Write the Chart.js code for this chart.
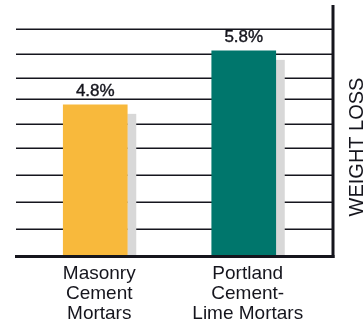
<!DOCTYPE html>
<html>
<head>
<meta charset="utf-8">
<script src="https://cdn.jsdelivr.net/npm/chart.js@4.4.1/dist/chart.umd.min.js"></script>
<style>
  body { margin: 0; background: #fff; }
  #lossChart { display: block; }
</style>
</head>
<body>
<canvas id="lossChart" width="364" height="320"></canvas>
<script>
const mortarTypes = [['Masonry', 'Cement', 'Mortars'], ['Portland', 'Cement-', 'Lime Mortars']];
const weightLoss = [4.8, 5.8];
const barColors = ['#f8b93c', '#00766c'];
const gridValues = [2.5, 3.0, 3.5, 4.0, 4.45, 4.9, 5.3, 5.75, 6.2];
const axisTitle = 'WEIGHT LOSS';

const ctx = document.getElementById('lossChart');
const ink = '#15151d';
const font = '"Liberation Sans", Arial, sans-serif';

// grid lines and bar shadows go under the bars, frame + labels on top
const framePlugin = {
    id: 'frame',
    beforeDatasetsDraw(chart) {
        const c = chart.ctx;
        const area = chart.chartArea;
        const y = chart.scales.y;
        c.save();
        c.strokeStyle = ink;
        c.lineWidth = 1.5;
        for (const v of gridValues) {
            const py = Math.round(y.getPixelForValue(v)) + 0.25;
            c.beginPath();
            c.moveTo(area.left - 5, py);
            c.lineTo(area.right + 15, py);
            c.stroke();
        }
        // light shadow strip right of each bar, stopping at the base line
        c.fillStyle = '#d8d8d8';
        chart.getDatasetMeta(0).data.forEach(bar => {
            const p = bar.getProps(['x', 'y', 'width'], true);
            c.fillRect(p.x + p.width / 2, p.y + 9, 9, area.bottom - p.y - 9);
        });
        c.restore();
    },
    afterDatasetsDraw(chart) {
        const c = chart.ctx;
        const area = chart.chartArea;
        const right = area.right + 15;
        c.save();
        c.strokeStyle = ink;
        c.lineWidth = 3;
        c.beginPath();
        c.moveTo(area.left - 6, area.bottom + 0.5);
        c.lineTo(right + 1.5, area.bottom + 0.5);
        c.stroke();
        c.beginPath();
        c.moveTo(right, area.top);
        c.lineTo(right, area.bottom + 2);
        c.stroke();

        // value on top of each bar
        c.fillStyle = ink;
        c.strokeStyle = ink;
        c.lineWidth = 0.4;
        c.font = '17px ' + font;
        c.textAlign = 'center';
        c.textBaseline = 'alphabetic';
        chart.getDatasetMeta(0).data.forEach((bar, i) => {
            const txt = weightLoss[i].toFixed(1) + '%';
            c.fillText(txt, bar.x, bar.y - 9);
            c.strokeText(txt, bar.x, bar.y - 9);
        });

        // axis title, reading bottom to top along the right edge
        c.font = '20px ' + font;
        c.translate(chart.width - 1, 147);
        c.rotate(-Math.PI / 2);
        c.fillText(axisTitle, 0, 0);
        c.restore();
    }
};

var chart = new Chart(ctx, {
    type: 'bar',
    data: {
        labels: mortarTypes,
        datasets: [{
            label: axisTitle,
            data: weightLoss,
            backgroundColor: barColors,
            borderWidth: 0,
            barThickness: 64
        }]
    },
    options: {
        responsive: false,
        animation: false,
        devicePixelRatio: 1,
        layout: {
            padding: { left: 21, right: 46, top: 5, bottom: 0 }
        },
        plugins: {
            legend: { display: false },
            tooltip: { enabled: false }
        },
        scales: {
            x: {
                grid: { display: false, drawTicks: false },
                border: { display: false },
                ticks: {
                    color: ink,
                    padding: 8,
                    labelOffset: 4,
                    maxRotation: 0,
                    font: { family: font, size: 19, lineHeight: 1.05 }
                },
                afterFit: function(scale) {
                    scale.height = 64;
                }
            },
            y: {
                display: false,
                min: 2,
                max: 6.65
            }
        }
    },
    plugins: [framePlugin]
});
</script>
</body>
</html>
